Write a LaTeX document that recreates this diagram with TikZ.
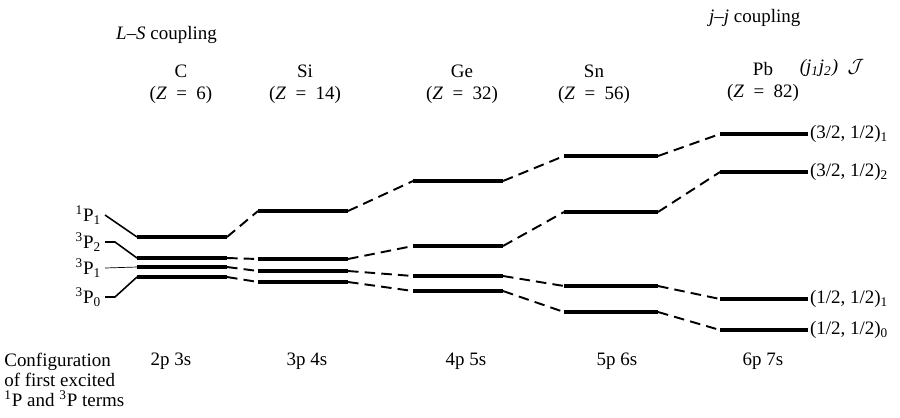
\documentclass[tikz,border=0pt]{standalone}
\usepackage{fontspec}
\setmainfont{Liberation Serif}
\newcommand{\Zeq}{\hspace{0.5em}=\hspace{0.5em}}
\begin{document}
\begin{tikzpicture}[x=0.02cm,y=-0.02cm,
    font=\fontsize{10.8}{12.5}\selectfont,
    level/.style={line width=1.9pt},
    link/.style={line width=1.1pt, dash pattern=on 6pt off 3.5pt},
    tick/.style={line width=0.9pt}]
  \useasboundingbox (0,0) rectangle (900,417);

  % headings
  \node[anchor=west] (ls) at (110,35) {\textit{L}–\textit{S} coupling};
  \node[anchor=west] (jj) at (703,18) {\textit{j}–\textit{j} coupling};
  \node[align=center] (hC) at (181,84) {C\\(\textit{Z}\Zeq 6)};
  \node[align=center] (hSi) at (305,84) {Si\\(\textit{Z}\Zeq 14)};
  \node[align=center] (hGe) at (462,84) {Ge\\(\textit{Z}\Zeq 32)};
  \node[align=center] (hSn) at (594,84) {Sn\\(\textit{Z}\Zeq 56)};
  \node[align=center] (hPb) at (763,82) {Pb\\(\textit{Z}\Zeq 82)};
  \node (jJ) at (832,68) {\textit{(j\textsubscript{1}j\textsubscript{2})}\enspace$\mathcal{J}$};

  % level ends
  \coordinate (C1a) at (137,237); \coordinate (C1b) at (227,237);
  \coordinate (C2a) at (137,258); \coordinate (C2b) at (227,258);
  \coordinate (C3a) at (137,267); \coordinate (C3b) at (227,267);
  \coordinate (C4a) at (137,277); \coordinate (C4b) at (227,277);
  \coordinate (Si1a) at (258,211); \coordinate (Si1b) at (348,211);
  \coordinate (Si2a) at (258,259); \coordinate (Si2b) at (348,259);
  \coordinate (Si3a) at (258,271); \coordinate (Si3b) at (348,271);
  \coordinate (Si4a) at (258,282); \coordinate (Si4b) at (348,282);
  \coordinate (Ge1a) at (413,181); \coordinate (Ge1b) at (503,181);
  \coordinate (Ge2a) at (413,246); \coordinate (Ge2b) at (503,246);
  \coordinate (Ge3a) at (413,276); \coordinate (Ge3b) at (503,276);
  \coordinate (Ge4a) at (413,291); \coordinate (Ge4b) at (503,291);
  \coordinate (Sn1a) at (564,156); \coordinate (Sn1b) at (658,156);
  \coordinate (Sn2a) at (564,212); \coordinate (Sn2b) at (658,212);
  \coordinate (Sn3a) at (564,286); \coordinate (Sn3b) at (658,286);
  \coordinate (Sn4a) at (564,312); \coordinate (Sn4b) at (658,312);
  \coordinate (Pb1a) at (720,134); \coordinate (Pb1b) at (808,134);
  \coordinate (Pb2a) at (720,172); \coordinate (Pb2b) at (808,172);
  \coordinate (Pb3a) at (720,299); \coordinate (Pb3b) at (808,299);
  \coordinate (Pb4a) at (720,330); \coordinate (Pb4b) at (808,330);

  \draw[level] (C1a) -- (C1b) (C2a) -- (C2b) (C3a) -- (C3b) (C4a) -- (C4b);
  \draw[level] (Si1a) -- (Si1b) (Si2a) -- (Si2b) (Si3a) -- (Si3b) (Si4a) -- (Si4b);
  \draw[level] (Ge1a) -- (Ge1b) (Ge2a) -- (Ge2b) (Ge3a) -- (Ge3b) (Ge4a) -- (Ge4b);
  \draw[level] (Sn1a) -- (Sn1b) (Sn2a) -- (Sn2b) (Sn3a) -- (Sn3b) (Sn4a) -- (Sn4b);
  \draw[level] (Pb1a) -- (Pb1b) (Pb2a) -- (Pb2b) (Pb3a) -- (Pb3b) (Pb4a) -- (Pb4b);

  \draw[link] (C1b) -- (Si1a) (Si1b) -- (Ge1a) (Ge1b) -- (Sn1a) (Sn1b) -- (Pb1a);
  \draw[link] (C2b) -- (Si2a) (Si2b) -- (Ge2a) (Ge2b) -- (Sn2a) (Sn2b) -- (Pb2a);
  \draw[link] (C3b) -- (Si3a) (Si3b) -- (Ge3a) (Ge3b) -- (Sn3a) (Sn3b) -- (Pb3a);
  \draw[link] (C4b) -- (Si4a) (Si4b) -- (Ge4a) (Ge4b) -- (Sn4a) (Sn4b) -- (Pb4a);

  % L-S terms
  \node[anchor=east, inner sep=2pt] (tP1) at (105,215) {\textsuperscript{1}P\textsubscript{1}};
  \node[anchor=east, inner sep=2pt] (tP2) at (105,242) {\textsuperscript{3}P\textsubscript{2}};
  \node[anchor=east, inner sep=2pt] (tPa) at (105,268) {\textsuperscript{3}P\textsubscript{1}};
  \node[anchor=east, inner sep=2pt] (tP0) at (105,297) {\textsuperscript{3}P\textsubscript{0}};
  \draw[tick] (tP1.east) -- (C1a);
  \draw[tick] (tP2.east) -- ++(10,0) -- (C2a);
  \draw[line width=0.4pt] (tPa.east) -- (C3a);
  \draw[tick] (tP0.east) -- ++(10,0) -- (C4a);

  % j-j terms
  \node[anchor=west, inner sep=1pt] (jA) at (Pb1b) {(3/2, 1/2)\textsubscript{1}};
  \node[anchor=west, inner sep=1pt] (jB) at (Pb2b) {(3/2, 1/2)\textsubscript{2}};
  \node[anchor=west, inner sep=1pt] (jC) at (Pb3b) {(1/2, 1/2)\textsubscript{1}};
  \node[anchor=west, inner sep=1pt] (jD) at (Pb4b) {(1/2, 1/2)\textsubscript{0}};

  % configurations
  \node[anchor=north west, align=left, inner sep=0pt,
    font=\fontsize{10.8}{11.4}\selectfont] (cfg) at (4,353)
    {Configuration\\of first excited\\\textsuperscript{1}P and \textsuperscript{3}P terms};
  \node[anchor=base] (kC) at (171,365) {2p 3s};
  \node[anchor=base] (kSi) at (307,365) {3p 4s};
  \node[anchor=base] (kGe) at (466,365) {4p 5s};
  \node[anchor=base] (kSn) at (617,365) {5p 6s};
  \node[anchor=base] (kPb) at (763,365) {6p 7s};
\end{tikzpicture}
\end{document}
